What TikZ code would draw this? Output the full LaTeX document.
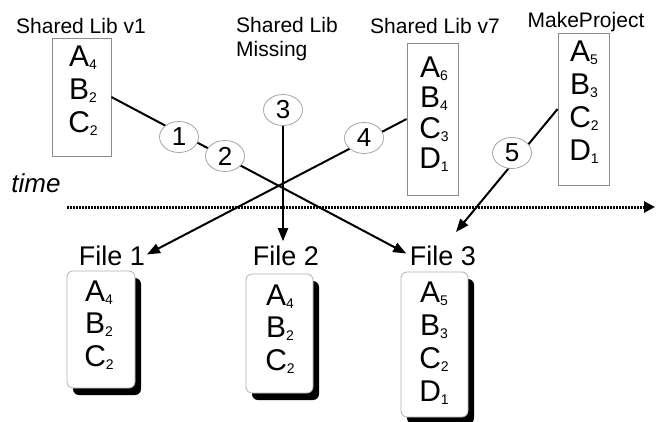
\documentclass[tikz,border=0pt]{standalone}
\usepackage{fontspec}
\setmainfont{Liberation Sans}
\usetikzlibrary{arrows.meta,shapes.geometric}
\newcommand{\ent}[2]{#1\raisebox{-3pt}{\fontsize{14}{14}\selectfont #2}}
\begin{document}
\begin{tikzpicture}[x=1pt,y=-1pt,
  lbl/.style={font=\fontsize{21}{24}\selectfont, inner sep=0pt},
  libbox/.style={draw=black!45, line width=0.8pt, rectangle, inner sep=0pt},
  entries/.style={align=center, font=\fontsize{30}{33}\selectfont, inner sep=0pt},
  filebox/.style={draw=black!30, line width=0.8pt, fill=white, rounded corners=6pt, inner sep=0pt},
  fileshadow/.style={fill=black, rounded corners=6pt, inner sep=0pt},
  num/.style={ellipse, draw=black!35, line width=0.8pt, fill=white, minimum width=39pt, minimum height=31pt, inner sep=0pt, font=\fontsize{26}{26}\selectfont},
  conn/.style={line width=2pt},
  arr/.style={conn, -{Triangle[length=13pt,width=10pt]}},
  filelbl/.style={font=\fontsize{27}{27}\selectfont, inner sep=0pt, anchor=base}
]
\useasboundingbox (0,0) rectangle (656,421);

% titles
\node[lbl, anchor=base] (t1) at (81,33) {Shared Lib v1};
\node[lbl, anchor=north west, align=left] (tmiss) at (236,17) {Shared Lib\\Missing};
\node[lbl, anchor=base] (t7) at (435,33) {Shared Lib v7};
\node[lbl, anchor=base] (tmp) at (586,27) {MakeProject};
\node[font=\fontsize{26}{26}\selectfont\itshape, inner sep=0pt, anchor=base] (time) at (36,192) {time};

% library boxes
\node[libbox, minimum width=59pt, minimum height=118pt] (v1) at (81.5,97) {};
\node[entries] (v1c) at (83,91) {\ent{A}{4}\\\ent{B}{2}\\\ent{C}{2}};
\node[libbox, minimum width=51pt, minimum height=152pt] (v7) at (432.5,119) {};
\node[entries, font=\fontsize{30}{30.5}\selectfont] (v7c) at (434,114) {\ent{A}{6}\\\ent{B}{4}\\\ent{C}{3}\\\ent{D}{1}};
\node[libbox, minimum width=51pt, minimum height=152pt] (mp) at (583.5,109) {};
\node[entries, font=\fontsize{30}{33}\selectfont] (mpc) at (584,102) {\ent{A}{5}\\\ent{B}{3}\\\ent{C}{2}\\\ent{D}{1}};

% file labels
\node[filelbl] (f1) at (112,265) {File 1};
\node[filelbl] (f2) at (286,265) {File 2};
\node[filelbl] (f3) at (443,265) {File 3};

% file boxes with shadows
\node[fileshadow, minimum width=68pt, minimum height=117pt] (f1s) at (107,336.5) {};
\node[filebox, minimum width=68pt, minimum height=117pt] (f1b) at (101,329.5) {};
\node[entries, font=\fontsize{30}{32.5}\selectfont] (f1c) at (99,325) {\ent{A}{4}\\\ent{B}{2}\\\ent{C}{2}};
\node[fileshadow, minimum width=67pt, minimum height=119pt] (f2s) at (285.5,340.5) {};
\node[filebox, minimum width=67pt, minimum height=119pt] (f2b) at (279.5,333.5) {};
\node[entries, font=\fontsize{30}{32.5}\selectfont] (f2c) at (280,329) {\ent{A}{4}\\\ent{B}{2}\\\ent{C}{2}};
\node[fileshadow, minimum width=67pt, minimum height=145pt] (f3s) at (440.5,351.5) {};
\node[filebox, minimum width=67pt, minimum height=145pt] (f3b) at (434.5,344.5) {};
\node[entries, font=\fontsize{30}{33}\selectfont] (f3c) at (434,343) {\ent{A}{5}\\\ent{B}{3}\\\ent{C}{2}\\\ent{D}{1}};

% time axis
\coordinate (ta) at (67,207);
\coordinate (tb) at (655,207);
\draw[line width=3pt, dash pattern=on 2pt off 1pt, -{Triangle[length=11pt,width=11pt]}] (ta) -- (tb);

% connectors
\coordinate (t5) at (456,232);
\draw[arr, shorten >=4pt] (v1.east) -- (f3.west);
\draw[arr, shorten >=2pt] (v7.west) -- (f1.east);
\draw[arr, shorten >=4pt] (283,110) -- (283,265 |- f2.north);
\draw[arr] (mp.west) -- (t5);

% step circles
\node[num] (c1) at (179,137) {1};
\node[num] (c2) at (225,156) {2};
\node[num] (c3) at (283,110) {3};
\node[num] (c4) at (364,138) {4};
\node[num] (c5) at (512,153) {5};
\end{tikzpicture}
\end{document}
